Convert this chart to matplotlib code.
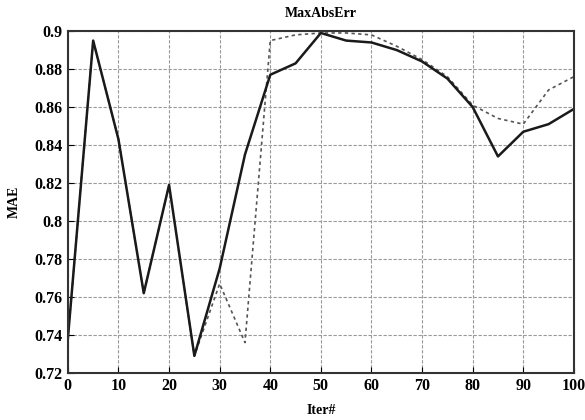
import matplotlib.pyplot as plt

iters = [0, 5, 10, 15, 20, 25, 30, 35, 40, 45, 50, 55, 60, 65, 70, 75, 80, 85, 90, 95, 100]
mae_solid = [0.738, 0.895, 0.843, 0.762, 0.819, 0.729, 0.775, 0.835, 0.877, 0.883, 0.899,
             0.895, 0.894, 0.890, 0.884, 0.875, 0.860, 0.834, 0.847, 0.851, 0.859]
mae_dashed = [0.738, 0.895, 0.843, 0.762, 0.819, 0.729, 0.767, 0.736, 0.895, 0.898, 0.899,
              0.899, 0.898, 0.892, 0.885, 0.876, 0.861, 0.854, 0.851, 0.869, 0.876]

plt.rcParams['font.family'] = ['Liberation Serif', 'DejaVu Serif']
plt.rcParams['font.weight'] = 'bold'

fig = plt.figure(figsize=(5.85, 4.2), dpi=100)
ax = fig.add_axes([0.116, 0.112, 0.865, 0.814])

ax.plot(iters, mae_dashed, color='#555555', linestyle=(0, (2, 2)), linewidth=1.2)
ax.plot(iters, mae_solid, color='#1a1a1a', linewidth=1.8)

ax.set_xlim(0, 100)
ax.set_ylim(0.72, 0.9)
ax.set_xticks(range(0, 101, 10))
ax.set_yticks([0.72, 0.74, 0.76, 0.78, 0.8, 0.82, 0.84, 0.86, 0.88, 0.9])
ax.set_yticklabels(['0.72', '0.74', '0.76', '0.78', '0.8', '0.82', '0.84', '0.86', '0.88', '0.9'])
ax.grid(True, color='#999999', linestyle=(0, (3, 1.5)), linewidth=0.8)
ax.tick_params(direction='in', labelsize=11.5, length=4)
for s in ax.spines.values():
    s.set_linewidth(1.5)
    s.set_color('#333333')

ax.set_title('MaxAbsErr', fontsize=10, fontweight='bold', pad=10)
ax.set_xlabel('Iter#', fontsize=10, fontweight='bold', labelpad=7)
ax.set_ylabel('MAE', fontsize=10, fontweight='bold', labelpad=10)

plt.savefig('out.png', dpi=100)
